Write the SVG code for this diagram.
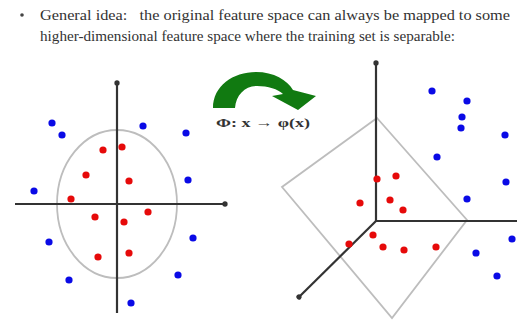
<svg xmlns="http://www.w3.org/2000/svg" width="517" height="326" viewBox="0 0 517 326">
<defs>
<style>
.t{font-family:"Liberation Serif","Times New Roman",serif;fill:#333;font-size:14.5px;white-space:pre}
.ax{stroke:#333;stroke-width:2.2;fill:none}
.bd{stroke:#bdbdbd;stroke-width:1.8;fill:none}
.b{fill:#0a0ae6}
.r{fill:#e60a0a}
</style>
<marker id="ah" viewBox="0 0 10 10" refX="5" refY="5" markerWidth="3" markerHeight="3" orient="auto"><circle cx="5" cy="5" r="4" fill="#333"/></marker>
</defs>
<rect width="517" height="326" fill="#fff"/>
<g id="title">
<circle cx="22" cy="15" r="1.8" fill="#444"/>
<text class="t" x="40" y="20" textLength="470" lengthAdjust="spacingAndGlyphs" xml:space="preserve">General idea:   the original feature space can always be mapped to some</text>
<text class="t" x="40" y="41" textLength="415" lengthAdjust="spacingAndGlyphs">higher-dimensional feature space where the training set is separable:</text>
</g>
<g id="left-plot">
<ellipse class="bd" cx="117" cy="204" rx="60" ry="74"/>
<line class="ax" x1="117" y1="83" x2="117" y2="313" marker-start="url(#ah)"/>
<line class="ax" x1="15" y1="204" x2="225" y2="204" marker-end="url(#ah)"/>
<g class="b">
<circle cx="52" cy="123" r="3.6"/><circle cx="62" cy="135" r="3.6"/><circle cx="143" cy="126" r="3.6"/><circle cx="186" cy="133" r="3.6"/><circle cx="34" cy="191" r="3.6"/><circle cx="188" cy="180" r="3.6"/><circle cx="49" cy="242" r="3.6"/><circle cx="193" cy="238" r="3.6"/><circle cx="69" cy="280" r="3.6"/><circle cx="178" cy="275" r="3.6"/><circle cx="131" cy="303" r="3.6"/>
</g>
<g class="r">
<circle cx="122" cy="147" r="3.6"/><circle cx="103" cy="150" r="3.6"/><circle cx="86" cy="175" r="3.6"/><circle cx="129" cy="181" r="3.6"/><circle cx="71" cy="199" r="3.6"/><circle cx="148" cy="212" r="3.6"/><circle cx="95" cy="217" r="3.6"/><circle cx="124" cy="222" r="3.6"/><circle cx="98" cy="257" r="3.6"/><circle cx="129" cy="253" r="3.6"/>
</g>
</g>
<g id="mapping">
<path d="M213,108 C213,86 233,72 256,72 C274,72 287,80 293,90 L316,96 L298,110 L272,96 L283,94 C278,89 268,86 257,86 C245,86 236,95 235,108 Z" fill="#117a11"/>
<text x="216" y="127" font-family="Liberation Serif,serif" font-weight="bold" font-size="12.5" fill="#333" textLength="94" lengthAdjust="spacingAndGlyphs">Φ:  x → φ(x)</text>
</g>
<g id="right-plot">
<polygon class="bd" points="377,118 467,220 392,318 282,187"/>
<line class="ax" x1="376" y1="63" x2="376" y2="221" marker-start="url(#ah)"/>
<line class="ax" x1="376" y1="221" x2="517" y2="221"/>
<line class="ax" x1="376" y1="221" x2="299" y2="297" marker-end="url(#ah)"/>
<g class="b">
<circle cx="432" cy="91" r="3.6"/><circle cx="467" cy="101" r="3.6"/><circle cx="462" cy="117" r="3.6"/><circle cx="461" cy="128" r="3.6"/><circle cx="505" cy="135" r="3.6"/><circle cx="437" cy="157" r="3.6"/><circle cx="506" cy="182" r="3.6"/><circle cx="467" cy="199" r="3.6"/><circle cx="512" cy="239" r="3.6"/><circle cx="476" cy="253" r="3.6"/><circle cx="497" cy="276" r="3.6"/>
</g>
<g class="r">
<circle cx="377" cy="179" r="3.6"/><circle cx="396" cy="176" r="3.6"/><circle cx="360" cy="203" r="3.6"/><circle cx="390" cy="200" r="3.6"/><circle cx="403" cy="210" r="3.6"/><circle cx="373" cy="235" r="3.6"/><circle cx="349" cy="244" r="3.6"/><circle cx="383" cy="247" r="3.6"/><circle cx="404" cy="250" r="3.6"/><circle cx="436" cy="247" r="3.6"/>
</g>
</g>
</svg>
